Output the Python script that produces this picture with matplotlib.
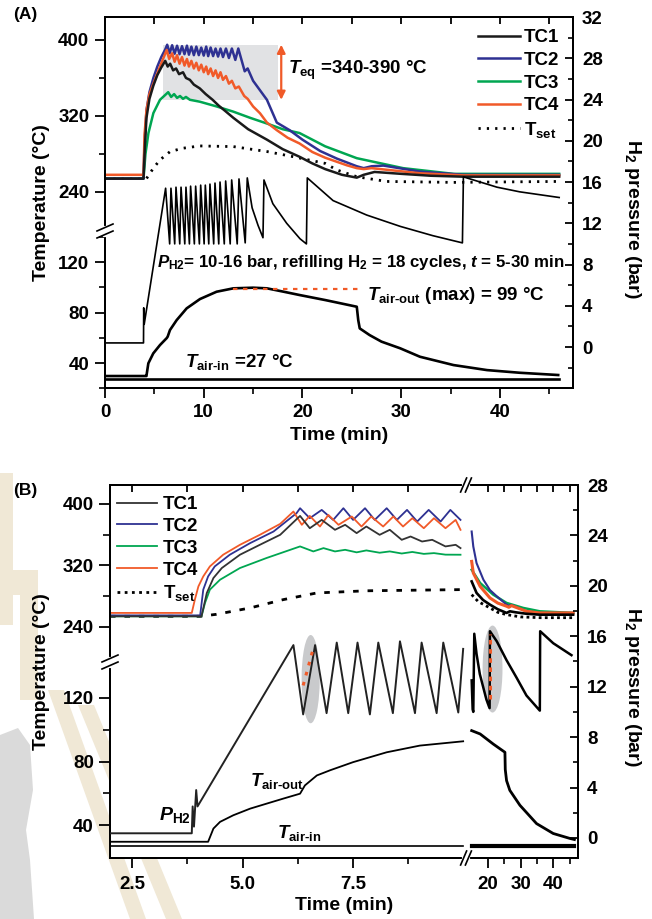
import numpy as np
import matplotlib
matplotlib.use('Agg')
import matplotlib.pyplot as plt
from matplotlib.patches import Rectangle, Ellipse, Polygon
from matplotlib.lines import Line2D
from matplotlib.ticker import FixedLocator, FixedFormatter, NullFormatter

plt.rcParams['font.family'] = ['Liberation Sans', 'DejaVu Sans']
plt.rcParams['font.weight'] = 'bold'
plt.rcParams['font.size'] = 13.5
plt.rcParams['axes.labelweight'] = 'bold'
plt.rcParams['mathtext.fontset'] = 'custom'
plt.rcParams['mathtext.rm'] = 'Liberation Sans:bold'
plt.rcParams['mathtext.it'] = 'Liberation Sans:italic:bold'
plt.rcParams['mathtext.bf'] = 'Liberation Sans:bold'
plt.rcParams['axes.linewidth'] = 1.4

# ---------------- panel A data ----------------
a_tc1_t = [0, 3.9, 4.05, 4.2, 4.5, 4.9, 5.3, 5.7, 6.1, 6.35, 6.6, 6.9, 7.2, 7.5, 7.9, 8.2, 8.6, 9.0, 9.6,
           10.2, 10.9, 11.5, 12.2, 13.0, 14.5, 16.4, 18.0, 19.7, 21.0, 22.3, 24.0, 25.5, 26.2, 27.3, 30.0,
           33.0, 36.3, 46.0]
a_tc1_T = [254, 254, 290, 318, 338, 352, 363, 371, 378, 372, 375, 368, 370, 364, 366, 360, 358, 353, 349,
           343, 337, 331, 325, 318, 306, 295, 285, 277, 270, 264, 258, 255, 258, 261, 259,
           257, 256, 256]

a_tc2_t = [0, 3.9, 4.0, 4.2, 4.5, 4.9, 5.3, 5.7, 6.1, 6.3, 6.55, 6.8, 7.05, 7.3, 7.55, 7.8, 8.05, 8.3,
           8.5, 8.75, 9.0, 9.25, 9.5, 9.75, 10.0, 10.25, 10.45, 10.7, 10.95, 11.2, 11.45, 11.7, 11.95,
           12.25, 12.55, 12.85, 13.2, 13.5, 14.15, 14.45, 15.0, 15.7, 16.4, 17.4, 18.7, 20.0, 21.8, 23.5,
           25.5, 26.2, 27.0, 28.2, 31.9, 36.3, 46.0]
a_tc2_T = [254, 254, 290, 326, 345, 360, 372, 382, 390, 395, 386, 394.5, 385.5, 394, 385, 393.5, 385, 394,
           384.5, 393, 384, 393, 384, 392, 383.5, 393, 383, 392, 383, 391, 382.5, 391, 382,
           391, 381, 391, 379, 391, 367, 370, 357, 347, 337, 313, 305, 295, 283, 275,
           267, 265, 267, 267.7, 261.4, 258, 258]

a_tc3_t = [0, 3.9, 4.1, 4.4, 4.9, 5.57, 6.4, 6.7, 7.0, 7.3, 7.6, 7.9, 8.2, 8.6, 9.6, 11.3, 13.0, 14.7,
           16.4, 18.0, 19.7, 22.3, 25.5, 30.2, 35.3, 46.0]
a_tc3_T = [254, 254, 280, 302, 323, 337, 345, 340, 343, 339, 341, 338, 340, 337, 335, 330, 324.5, 318,
           312, 306, 302, 288, 275.5, 265, 259, 259]

a_tc4_t = [0, 3.9, 4.0, 4.2, 4.5, 4.9, 5.57, 6.25, 6.5, 6.8, 7.05, 7.3, 7.55, 7.8, 8.05, 8.3, 8.5, 8.75,
           9.0, 9.25, 9.5, 9.75, 10.0, 10.25, 10.45, 10.7, 10.95, 11.2, 11.45, 11.7, 11.95, 12.25, 12.55,
           12.85, 13.2, 13.55, 14.1, 14.45, 15.0, 15.7, 16.4, 17.4, 18.5, 19.7, 21.0, 22.3, 24.5, 25.5,
           26.2, 27.0, 31.9, 36.3, 46.0]
a_tc4_T = [258, 258, 300, 326, 343, 354, 372, 389.5, 380, 386, 377, 384, 375, 382, 373, 380, 372, 378,
           370, 376, 368, 374, 366, 372, 364, 370, 362, 368, 360, 366, 358, 362, 354,
           357, 349, 351, 341, 338, 330, 322.8, 313, 305, 297, 291, 282, 276, 268, 265,
           264, 265, 259.6, 257.4, 257.4]

a_tset_t = [0, 4.2, 4.9, 5.57, 6.6, 7.9, 9.6, 13.0, 16.4, 19.1, 22.3, 23.5, 25.5, 28.5, 35.3, 46.0]
a_tset_T = [254, 254, 265, 273.7, 282.5, 286, 288.4, 287.7, 282.5, 277, 270, 263, 256, 251, 250, 251]

a_p_t = [0, 3.90, 3.92, 3.97, 6.14, 6.55, 6.68, 7.06, 7.19, 7.57, 7.70, 8.08, 8.20, 8.55, 8.67, 9.05,
         9.18, 9.56, 9.69, 10.04, 10.16, 10.51, 10.63, 11.01, 11.14, 11.52, 11.65, 12.08, 12.22, 12.68,
         12.83, 13.39, 13.57, 14.20, 14.41, 14.9, 15.5, 16.0, 16.10, 17.0, 18.4, 19.75, 20.4, 20.49,
         23.1, 26.5, 29.9, 33.2, 36.2, 36.3, 39.7, 42.0, 46.0]
a_p_bar = [0.4, 0.4, 3.8, 2.2, 15.4, 10.0, 15.4, 10.0, 15.5, 10.0, 15.5, 10.0, 15.5, 10.0, 15.6, 10.0,
           15.6, 10.0, 15.7, 10.0, 15.7, 10.0, 15.8, 10.0, 15.9, 10.0, 16.0, 10.0, 16.1, 10.0,
           16.2, 10.0, 16.3, 10.1, 16.4, 13.5, 11.8, 10.6, 16.2, 13.9, 12.0, 10.5, 10.0, 16.4,
           14.2, 12.8, 11.7, 10.8, 10.1, 16.5, 15.5, 15.05, 14.5]

a_out_t = [0, 4.2, 4.22, 4.39, 4.89, 5.57, 6.25, 6.35, 6.58, 7.26, 8.27, 9.62, 11.3, 13.0, 15.0, 16.4,
           18.1, 19.7, 22.3, 25.5, 25.65, 25.8, 26.8, 28.0, 29.9, 31.9, 35.3, 38.7, 42.0, 45.9]
a_out_T = [29.7, 29.7, 31, 39.8, 47.7, 54.3, 59.8, 61, 66.2, 74.1, 83.4, 90.8, 96.6, 99.3, 99.8, 99.3,
           96.6, 94, 90, 84.7, 74, 67.5, 62.2, 57, 51.7, 45, 38.4, 34.4, 32.3, 30.5]
a_in_t = [0, 46.0]
a_in_T = [27, 27]
a_max_T = 99
a_max_span = [13.0, 26.0]
a_teq_span = [5.9, 17.5]
a_teq_T = [337, 395]

# ---------------- panel B data ----------------
b_tc1_t1 = [2.0, 4.07, 4.19, 4.34, 4.53, 4.94, 5.39, 5.85, 6.30, 6.52, 6.79, 7.09, 7.32, 7.58, 7.80, 8.10,
            8.33, 8.60, 8.80, 9.06, 9.29, 9.59, 9.82, 9.93]
b_tc1_T1 = [253.8, 253.8, 284.1, 303.6, 316.6, 333.9, 346.8, 359.8, 384.4, 368.4, 379.2, 366.3, 372.8,
            362.0, 370.6, 359.8, 366.3, 353.3, 357.6, 351.1, 353.3, 344.7, 346.8, 342.5]
b_tc1_t2 = [15.0, 16.5, 18.5, 20.6, 23.0, 25.7, 26.7, 28.5, 31.8, 35.9, 46.1]
b_tc1_T2 = [299.2, 284.2, 275, 269, 263, 258.2, 260.3, 259, 257.1, 255.9, 255.9]

b_tc2_t1 = [2.0, 4.04, 4.11, 4.22, 4.37, 4.71, 5.17, 5.70, 6.22, 6.30, 6.52, 6.79, 7.05, 7.28, 7.50,
            7.77, 7.99, 8.26, 8.49, 8.72, 8.95, 9.21, 9.48, 9.70, 9.93]
b_tc2_T1 = [255, 255, 288.5, 305.7, 318.7, 333.9, 349, 364.1, 387.9, 394.4, 381.4, 392.2, 379.2, 394.4,
            379.2, 394.4, 379.2, 394.4, 379.2, 392.2, 377.1, 392.2, 377.1, 392.2, 379.2]
b_tc2_t2 = [15.0, 15.5, 16.5, 18.6, 20.6, 22.7, 25.7, 26.5, 27.2, 31.8, 35.9, 46.1]
b_tc2_T2 = [364.1, 344.6, 323, 301.4, 288, 279.8, 269, 267.5, 268.5, 260.3, 258.2, 258.2]

b_tc3_t1 = [2.0, 4.07, 4.15, 4.26, 4.49, 4.94, 5.54, 6.30, 6.60, 6.83, 7.09, 7.32, 7.58, 7.80, 8.10,
            8.33, 8.60, 8.84, 9.10, 9.33, 9.59, 9.93]
b_tc3_T1 = [253.8, 253.8, 271.2, 288.5, 301.4, 316.6, 329.6, 344.7, 338.2, 342.5, 338.2, 340.3, 337,
            339.5, 336.5, 338.2, 335.5, 337.5, 335, 336, 334, 333.9]
b_tc3_t2 = [15.0, 17.6, 21.6, 25.7, 30.8, 35.9, 46.1]
b_tc3_T2 = [314.4, 297.1, 282, 271.2, 264.7, 260.3, 258.2]

b_tc4_t1 = [2.0, 3.85, 3.92, 4.00, 4.11, 4.26, 4.56, 4.94, 5.39, 5.85, 6.15, 6.34, 6.52, 6.75, 6.94,
            7.17, 7.47, 7.69, 7.91, 8.18, 8.41, 8.63, 8.84, 9.10, 9.33, 9.59, 9.82, 9.93]
b_tc4_T1 = [258.2, 258.2, 275.5, 292.7, 305.7, 318.7, 333.9, 346.8, 359.8, 374, 390.1, 372.8, 384.4,
            370.6, 385.7, 372.8, 383.6, 370.6, 383.6, 370.6, 383.6, 370.6, 381.4, 368.4, 381.4, 368.4,
            379.2, 366.3]
b_tc4_t2 = [15.0, 15.5, 17.6, 20.6, 23.0, 25.7, 26.4, 27.2, 31.8, 35.9, 46.1]
b_tc4_T2 = [325.2, 310.1, 292.7, 277.7, 271, 266.9, 265.5, 267.7, 260.3, 258.2, 258.2]

b_tset_t1 = [2.0, 4.04, 4.41, 5.17, 5.92, 6.68, 7.81, 9.92]
b_tset_T1 = [253.8, 253.8, 256.4, 264.7, 275.5, 284.2, 287, 288.5]
b_tset_t2 = [15.0, 17.0, 20.6, 23.0, 25.7, 30.0, 36.0, 46.1]
b_tset_T2 = [282, 273, 264.7, 259, 256, 253, 252, 252]

b_p_t1 = [2.0, 3.85, 3.87, 3.90, 3.95, 3.98, 6.15, 6.37, 6.64, 6.90, 7.13, 7.39, 7.60, 7.88, 8.07,
          8.40, 8.56, 8.90, 9.05, 9.39, 9.54, 9.88, 9.99]
b_p_bar1 = [0.37, 0.37, 2.5, 0.9, 3.8, 2.5, 15.3, 9.8, 15.3, 9.9, 15.5, 9.9, 15.5, 9.8, 15.5,
            9.9, 15.6, 9.9, 15.5, 9.9, 15.5, 9.95, 15.0]
b_p_t2 = [15.0, 15.3, 15.5, 15.8, 16.5, 17.5, 18.5, 19.5, 20.5, 20.6, 22.7, 25.7, 28.8, 31.8, 35.9,
          36.0, 40.0, 45.6]
b_p_bar2 = [12.5, 10.2, 10.0, 16.2, 14.6, 13.0, 12.0, 11.0, 10.3, 16.4, 15.6, 14.1, 12.7, 11.3, 10.1,
            16.4, 15.45, 14.5]

b_out_t1 = [2.0, 4.22, 4.34, 4.49, 4.79, 5.17, 5.55, 5.92, 6.30, 6.41, 6.68, 6.98, 7.50, 8.26, 9.01, 9.99]
b_out_T1 = [29.6, 29.6, 37.9, 42.1, 46.25, 50.4, 53.6, 56.7, 59.8, 65, 71.25, 74.5, 79.6, 85.8, 90, 92.7]
b_out_t2 = [15.0, 17.6, 21.6, 25.2, 25.3, 25.7, 26.7, 29.8, 34.9, 40.0, 45.1, 46.5]
b_out_T2 = [99.4, 97.3, 91, 85.8, 75, 68, 61.9, 52.5, 41, 34.8, 31.7, 31]
b_in_t1 = [2.0, 9.99]
b_in_T1 = [27, 27]
b_in_t2 = [15.0, 46.5]
b_in_T2 = [27, 27]

b_hl1_t = [6.37, 6.60]
b_hl1_bar = [12.1, 15.05]
b_hl2_t = [20.6, 20.6]
b_hl2_bar = [11.0, 16.2]
b_ell = [(6.54, 12.6, 0.41, 7.0), (21.4, 13.4, 6.1, 6.9)]

c_tc1 = '#1a1a1a'
c_tc2 = '#2e3192'
c_tc3 = '#00a651'
c_tc4 = '#f15a29'
c_or = '#f05a28'


def piecewise(lo, hi, f1, f2):
    a0, a1 = lo
    b0, b1 = hi
    mid = (a1 + b0) / 2
    umid = (f1 + f2) / 2

    def fwd(v):
        v = np.asarray(v, dtype=float)
        return np.where(v <= mid, (v - a0) / (a1 - a0) * f1,
                        f2 + (v - b0) / (b1 - b0) * (1 - f2))

    def inv(u):
        u = np.asarray(u, dtype=float)
        return np.where(u <= umid, a0 + u / f1 * (a1 - a0),
                        b0 + (u - f2) / (1 - f2) * (b1 - b0))
    return fwd, inv


def style(ax, ax2, tl_left, tl_bot, pad_left, pad_bot):
    ax.tick_params(axis='y', which='major', direction='out', length=tl_left, width=1.3, pad=pad_left)
    ax.tick_params(axis='y', which='minor', direction='out', length=tl_left * 0.62, width=1.2)
    ax.tick_params(axis='x', which='major', direction='out', length=tl_bot, width=1.3, pad=pad_bot, top=False)
    ax.tick_params(axis='x', which='minor', direction='out', length=tl_bot * 0.6, width=1.2, top=False)
    ax2.tick_params(axis='y', which='major', direction='in', length=5.5, width=1.3, pad=6.5)
    ax2.tick_params(axis='y', which='minor', direction='in', length=3.5, width=1.2)
    ax2.xaxis.set_visible(True)
    ax2.tick_params(axis='x', which='both', direction='in', bottom=False, top=True,
                    labelbottom=False, labeltop=False, length=5, width=1.3)


def ybreak(ax2, fb, w, h):
    g = 3.5 / h
    ax2.plot([0, 0], [fb - g, fb + g], color='white', lw=3, transform=ax2.transAxes,
             clip_on=False, zorder=20)
    for off in (-g, g):
        ax2.plot([-8 / w, 8 / w], [fb + off - 3.5 / h, fb + off + 3.5 / h], color='k', lw=1.2,
                 transform=ax2.transAxes, clip_on=False, zorder=21)


def xbreak(ax2, f1, f2, w, h):
    for yy in (0, 1):
        ax2.plot([f1, f2], [yy, yy], color='white', lw=3, transform=ax2.transAxes,
                 clip_on=False, zorder=20)
        for xx in (f1, f2):
            ax2.plot([xx - 3 / w, xx + 3 / w], [yy - 7 / h, yy + 7 / h], color='k', lw=1.2,
                     transform=ax2.transAxes, clip_on=False, zorder=21)


fig = plt.figure(figsize=(6.52, 9.19), dpi=100)
W, H = 652, 919


def fpoly(pts, color):
    # faint watermark shape, pixel coordinates from the top-left corner
    xy = [(x / W, 1 - y / H) for x, y in pts]
    fig.patches.append(Polygon(xy, closed=True, transform=fig.transFigure, facecolor=color,
                               edgecolor='none', zorder=-5))


beige = '#f0e8d6'
fpoly([(0, 473), (13, 473), (13, 625), (0, 625)], beige)
fpoly([(13, 570), (38, 570), (38, 595), (13, 595)], beige)
fpoly([(20, 570), (38, 570), (38, 700), (20, 700)], beige)
fpoly([(48, 690), (64, 690), (146, 919), (130, 919)], beige)
fpoly([(78, 705), (94, 705), (182, 919), (166, 919)], beige)
fpoly([(0, 735), (18, 728), (30, 745), (33, 790), (26, 830), (30, 860), (34, 919), (0, 919)], '#dadada')

# ======================= panel A =======================
axA = fig.add_axes([105 / W, (H - 388) / H, 468 / W, 371 / H])
fA = 157 / 371
fwdA, invA = piecewise((20.2, 144.8), (199, 424.2), fA, fA + 0.0005)
axA.set_yscale('function', functions=(fwdA, invA))
axA.set_ylim(20.2, 424.2)
axA.set_xlim(0, 47.4)

axA.add_patch(Rectangle((a_teq_span[0], a_teq_T[0]), a_teq_span[1] - a_teq_span[0],
                        a_teq_T[1] - a_teq_T[0], facecolor='#e1e2e4', edgecolor='none', zorder=0))
axA.plot(a_tset_t, a_tset_T, color='k', lw=2.0, ls=(0, (0.8, 2.2)), zorder=2)
axA.plot(a_tc3_t, a_tc3_T, color=c_tc3, lw=1.8, zorder=3)
axA.plot(a_tc2_t, a_tc2_T, color=c_tc2, lw=1.8, zorder=3)
axA.plot(a_tc4_t, a_tc4_T, color=c_tc4, lw=1.8, zorder=3)
axA.plot(a_tc1_t, a_tc1_T, color=c_tc1, lw=1.8, zorder=4)
axA.plot(a_out_t, a_out_T, color='k', lw=1.9)
axA.plot(a_in_t, a_in_T, color='k', lw=1.9)
axA.hlines(a_max_T, a_max_span[0], a_max_span[1], colors=c_or, linestyles=(0, (2, 2.5)), lw=1.6)
axA.annotate('', xy=(17.85, a_teq_T[1]), xytext=(17.85, a_teq_T[0]),
             arrowprops=dict(arrowstyle='<|-|>', color=c_or, lw=1.6, mutation_scale=12,
                             shrinkA=0, shrinkB=0))
axA.text(18.5, 368, r'$T_{\mathrm{eq}}$ =340-390 °C', fontsize=13.5, va='center')
axA.text(5.25, 119.5, r'$P_{\mathrm{H2}}$= 10-16 bar, refilling H$_2$ = 18 cycles, $t$ = 5-30 min',
         fontsize=12.2, va='center')
axA.text(26.5, 93.5, r'$T_{\mathrm{air‐out}}$ (max) = 99 °C', fontsize=13.5, va='center')
axA.text(8.1, 40.5, r'$T_{\mathrm{air‐in}}$ =27 °C', fontsize=13.5, va='center')
axA.set_xlabel('Time (min)', fontsize=14)
axA.set_ylabel('Temperature (°C)', fontsize=14)
axA.xaxis.set_label_coords(0.5, -0.105)
axA.yaxis.set_label_coords(-0.118, 0.5)

axA2 = axA.twinx()
axA2.set_ylim(-3.97, 32)
axA.xaxis.set_major_locator(FixedLocator([0, 10, 20, 30, 40]))
axA.xaxis.set_minor_locator(FixedLocator([5, 15, 25, 35, 45]))
axA.yaxis.set_major_locator(FixedLocator([40, 80, 120, 240, 320, 400]))
axA.yaxis.set_major_formatter(FixedFormatter(['40', '80', '120', '240', '320', '400']))
axA.yaxis.set_minor_locator(FixedLocator([20.2, 60, 100, 140, 280, 360]))
axA.yaxis.set_minor_formatter(NullFormatter())
axA2.yaxis.set_major_locator(FixedLocator(np.arange(-4, 33, 4)))
axA2.yaxis.set_minor_locator(FixedLocator(np.arange(-2, 32, 4)))
axA2.plot(a_p_t, a_p_bar, color='k', lw=1.2, zorder=3)
axA2.set_ylabel('H$_2$ pressure (bar)', fontsize=14, rotation=270, va='bottom')
axA2.yaxis.set_label_coords(1.105, 0.455)
style(axA, axA2, 7, 7, 4.3, 4.3)
ybreak(axA2, fA, 468, 371)

lh = [Line2D([], [], color=c_tc1, lw=1.8), Line2D([], [], color=c_tc2, lw=1.8),
      Line2D([], [], color=c_tc3, lw=1.8), Line2D([], [], color=c_tc4, lw=1.8),
      Line2D([], [], color='k', lw=2.0, ls=(0, (0.8, 2.2)))]
ll = ['TC1', 'TC2', 'TC3', 'TC4', 'T$_{\\mathrm{set}}$']
axA2.legend(lh, ll, loc='upper left', bbox_to_anchor=((478 - 105) / 468, (388 - 29) / 371),
            frameon=False, borderpad=0, borderaxespad=0, handlelength=2.25, handletextpad=0.2,
            labelspacing=0.3, fontsize=13.5)
fig.text(13 / W, 1 - 15 / H, '(A)', fontsize=12.5, va='center', ha='left')

# ======================= panel B =======================
axB = fig.add_axes([110 / W, (H - 858) / H, 468 / W, 373 / H])
fB = 196 / 373
fwdBy, invBy = piecewise((19.4, 142.5), (194.6, 424.6), fB, fB + 0.0005)
fx1, fx2 = 353.6 / 468, 358.4 / 468
fwdBx, invBx = piecewise((2.0, 10.0), (14.0, 47.6), fx1, fx2)
axB.set_yscale('function', functions=(fwdBy, invBy))
axB.set_xscale('function', functions=(fwdBx, invBx))
axB.set_ylim(19.4, 424.6)
axB.set_xlim(2.0, 47.6)

for tt, TT, kw in [(b_tset_t1, b_tset_T1, dict(color='k', lw=2.0, ls=(0, (2, 3.2)))),
                   (b_tset_t2, b_tset_T2, dict(color='k', lw=2.0, ls=(0, (1, 1.2)))),
                   (b_tc3_t1, b_tc3_T1, dict(color=c_tc3, lw=1.3)),
                   (b_tc3_t2, b_tc3_T2, dict(color=c_tc3, lw=1.8)),
                   (b_tc2_t1, b_tc2_T1, dict(color=c_tc2, lw=1.3)),
                   (b_tc2_t2, b_tc2_T2, dict(color=c_tc2, lw=1.5)),
                   (b_tc4_t1, b_tc4_T1, dict(color=c_tc4, lw=1.3)),
                   (b_tc4_t2, b_tc4_T2, dict(color=c_tc4, lw=2.2)),
                   (b_tc1_t1, b_tc1_T1, dict(color='#333333', lw=1.3)),
                   (b_tc1_t2, b_tc1_T2, dict(color='k', lw=1.9)),
                   (b_out_t1, b_out_T1, dict(color='k', lw=1.3)),
                   (b_out_t2, b_out_T2, dict(color='k', lw=2.0)),
                   (b_in_t1, b_in_T1, dict(color='k', lw=1.2)),
                   (b_in_t2, b_in_T2, dict(color='k', lw=3.0))]:
    axB.plot(tt, TT, **kw)

axB.text(3.1, 46.5, r'$P_{\mathrm{H2}}$', fontsize=14, va='center')
axB.text(5.17, 68, r'$T_{\mathrm{air‐out}}$', fontsize=13.5, va='center')
axB.text(5.77, 35, r'$T_{\mathrm{air‐in}}$', fontsize=13.5, va='center')
axB.set_xlabel('Time (min)', fontsize=14)
axB.set_ylabel('Temperature (°C)', fontsize=14)
axB.xaxis.set_label_coords(0.5, -0.105)
axB.yaxis.set_label_coords(-0.128, 0.5)

axB2 = axB.twinx()
axB2.set_ylim(-1.59, 28.0)
axB.xaxis.set_major_locator(FixedLocator([2.5, 5.0, 7.5, 20, 30, 40]))
axB.xaxis.set_major_formatter(FixedFormatter(['2.5', '5.0', '7.5', '20', '30', '40']))
axB.xaxis.set_minor_locator(FixedLocator([3.75, 6.25, 8.75, 25, 35, 45]))
axB.xaxis.set_minor_formatter(NullFormatter())
axB.yaxis.set_major_locator(FixedLocator([40, 80, 120, 240, 320, 400]))
axB.yaxis.set_major_formatter(FixedFormatter(['40', '80', '120', '240', '320', '400']))
axB.yaxis.set_minor_locator(FixedLocator([60, 100, 280, 360]))
axB.yaxis.set_minor_formatter(NullFormatter())
axB2.yaxis.set_major_locator(FixedLocator(np.arange(0, 29, 4)))
axB2.yaxis.set_minor_locator(FixedLocator(np.arange(2, 28, 4)))
for cx, cy, ew, eh in b_ell:
    axB2.add_patch(Ellipse((cx, cy), ew, eh, facecolor='#c9cacc', edgecolor='none', zorder=1))
axB2.plot(b_p_t1, b_p_bar1, color='#222222', lw=1.4, zorder=3)
axB2.plot(b_p_t2, b_p_bar2, color='k', lw=1.8, zorder=3)
axB2.plot(b_hl1_t, b_hl1_bar, color=c_or, lw=2.2, ls=(0, (1.2, 2.2)), zorder=4)
axB2.plot(b_hl2_t, b_hl2_bar, color=c_or, lw=2.2, ls=(0, (1.5, 1.5)), zorder=4)
axB2.set_ylabel('H$_2$ pressure (bar)', fontsize=14, rotation=270, va='bottom')
axB2.yaxis.set_label_coords(1.095, 0.458)
style(axB, axB2, 8, 7, 3.6, 5.8)
ybreak(axB2, fB, 468, 373)
xbreak(axB2, fx1, fx2, 468, 373)

lhB = [Line2D([], [], color='#333333', lw=1.3), Line2D([], [], color=c_tc2, lw=1.3),
       Line2D([], [], color=c_tc3, lw=1.3), Line2D([], [], color=c_tc4, lw=1.3),
       Line2D([], [], color='k', lw=2.0, ls=(0, (1, 1.6)))]
axB2.legend(lhB, ll, loc='upper left', bbox_to_anchor=(7 / 468, (858 - 496) / 373),
            frameon=False, borderpad=0, borderaxespad=0, handlelength=2.15, handletextpad=0.3,
            labelspacing=0.25, fontsize=13.5)
fig.text(13 / W, 1 - 490 / H, '(B)', fontsize=12.5, va='center', ha='left')

fig.savefig('out.png', dpi=100)
